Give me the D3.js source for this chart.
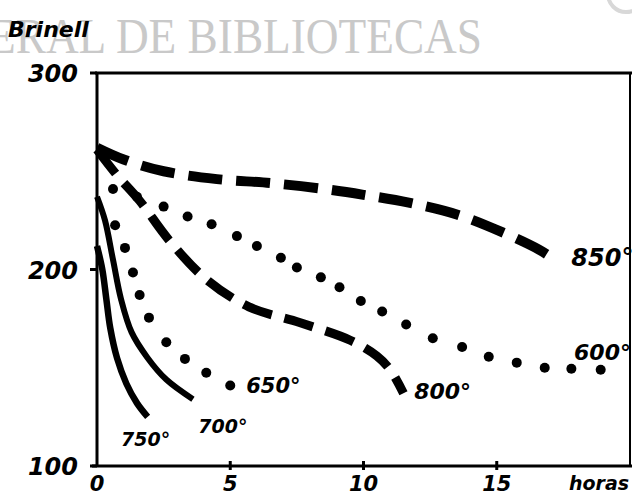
<!DOCTYPE html>
<html>
<head>
<meta charset="utf-8">
<script src="https://cdn.jsdelivr.net/npm/d3@7"></script>
<style>
  html, body { margin: 0; padding: 0; background: #fff; }
  svg { display: block; }
  text { font-family: "DejaVu Sans", "Liberation Sans", sans-serif; }
</style>
</head>
<body>
<svg id="chart" width="632" height="495"></svg>
<script>
// ---- data (hours, Brinell hardness) ----
const xTicks = [0, 5, 10, 15];
const yTicks = [100, 200, 300];
const xUnit = "horas";
const yTitle = "Brinell";

const s850 = [[0,262],[1,256],[2.5,250],[4.5,246],[6.5,244],[8.5,241],[10,238],[11.7,234],[13.5,228],[15.2,219],[16.6,210],[17.3,204]];
const s800 = [[0,261],[0.75,248],[1.6,235],[2.7,215],[4.1,195],[5.7,181],[7.6,173],[9.5,164],[10.5,156],[11,149],[11.5,137]];
const s600 = [[0.6,241],[1.5,237],[2.5,232],[3.4,227],[4.3,223],[5.25,217],[6.0,212],[6.9,206],[7.5,201],[8.4,196],[9.1,191],[9.9,184],[10.7,178.6],[11.6,172],[12.6,165],[13.7,160.6],[14.7,155.6],[15.75,152.6],[16.8,150],[17.8,149.5],[18.9,149]];
const s650 = [[0.68,222.5],[1.05,211],[1.35,198.5],[1.6,187],[1.95,175.5],[2.6,163],[3.3,154.5],[4.1,147.5],[5.0,141]];
const s700 = [[0,237],[0.3,225],[0.6,205],[0.9,185],[1.3,168],[1.9,155],[2.6,144],[3.6,134]];
const s750 = [[0,212],[0.2,200],[0.35,185],[0.5,170],[0.75,155],[1.1,142],[1.5,132],[1.9,125]];

const labels = [
  {t:"850°", h:17.8, b:202, size:24},
  {t:"600°", h:17.9, b:154, size:22},
  {t:"800°", h:11.9, b:134, size:22},
  {t:"650°", h:5.6,  b:137, size:21},
  {t:"700°", h:3.8,  b:117, size:19},
  {t:"750°", h:0.9,  b:110, size:19}
];

// ---- scales ----
const x = d3.scaleLinear().domain([0, 20]).range([97, 630]);
const y = d3.scaleLinear().domain([100, 300]).range([466, 73]);

const svg = d3.select("#chart");

// watermark
svg.append("text")
  .attr("x", -12).attr("y", 53)
  .attr("textLength", 494).attr("lengthAdjust", "spacingAndGlyphs")
  .style("font-family", "'Liberation Serif', 'DejaVu Serif', serif")
  .style("font-size", "50px")
  .attr("fill", "#c9c9c9")
  .text("ERAL DE BIBLIOTECAS");
svg.append("circle").attr("cx", 626).attr("cy", -6).attr("r", 18)
  .attr("fill", "none").attr("stroke", "#d8d8d8").attr("stroke-width", 4);

// frame
const fr = svg.append("g").attr("stroke", "#000").attr("fill", "none");
fr.append("line").attr("x1", x(0) - 2).attr("x2", 632).attr("y1", y(300)).attr("y2", y(300)).attr("stroke-width", 3);
fr.append("line").attr("x1", x(0)).attr("x2", x(0)).attr("y1", y(300) - 1).attr("y2", y(100) + 1).attr("stroke-width", 3);
fr.append("line").attr("x1", x(0) - 5).attr("x2", 632).attr("y1", y(100)).attr("y2", y(100)).attr("stroke-width", 3);
fr.append("line").attr("x1", 630).attr("x2", 630).attr("y1", y(300)).attr("y2", y(100)).attr("stroke-width", 2);

// y ticks
yTicks.forEach(v => {
  fr.append("line").attr("x1", x(0) - 7).attr("x2", x(0)).attr("y1", y(v)).attr("y2", y(v)).attr("stroke-width", 3);
  svg.append("text").attr("x", 78).attr("y", y(v) + 9)
    .attr("text-anchor", "end")
    .style("font-size", "24px").style("font-weight", "bold").style("font-style", "italic")
    .text(v);
});
// x ticks
xTicks.forEach(v => {
  if (v > 0) fr.append("line").attr("x1", x(v)).attr("x2", x(v)).attr("y1", y(100) - 5).attr("y2", y(100) + 4).attr("stroke-width", 3);
  svg.append("text").attr("x", x(v)).attr("y", 491)
    .attr("text-anchor", "middle")
    .style("font-size", "21px").style("font-weight", "bold").style("font-style", "italic")
    .text(v);
});
svg.append("text").attr("x", 569).attr("y", 490)
  .style("font-size", "19px").style("font-weight", "bold").style("font-style", "italic")
  .text(xUnit);
svg.append("text").attr("x", 8).attr("y", 37)
  .style("font-size", "22px").style("font-weight", "bold").style("font-style", "italic")
  .text(yTitle);

// curves
const line = d3.line().x(d => x(d[0])).y(d => y(d[1])).curve(d3.curveCatmullRom.alpha(0.5));

svg.append("path").datum(s850).attr("d", line)
  .attr("fill", "none").attr("stroke", "#000").attr("stroke-width", 10)
  .attr("stroke-dasharray", "34,14");
svg.append("path").datum(s800).attr("d", line)
  .attr("fill", "none").attr("stroke", "#000").attr("stroke-width", 9)
  .attr("stroke-dasharray", "30,13");
svg.append("path").datum(s700).attr("d", line)
  .attr("fill", "none").attr("stroke", "#000").attr("stroke-width", 6);
svg.append("path").datum(s750).attr("d", line)
  .attr("fill", "none").attr("stroke", "#000").attr("stroke-width", 6.5);

svg.append("g").selectAll("circle").data(s600).join("circle")
  .attr("cx", d => x(d[0])).attr("cy", d => y(d[1])).attr("r", 5);
svg.append("g").selectAll("circle").data(s650).join("circle")
  .attr("cx", d => x(d[0])).attr("cy", d => y(d[1])).attr("r", 5);

// curve labels
labels.forEach(l => {
  svg.append("text").attr("x", x(l.h)).attr("y", y(l.b))
    .style("font-size", l.size + "px").style("font-weight", "bold").style("font-style", "italic")
    .text(l.t);
});
</script>
</body>
</html>
